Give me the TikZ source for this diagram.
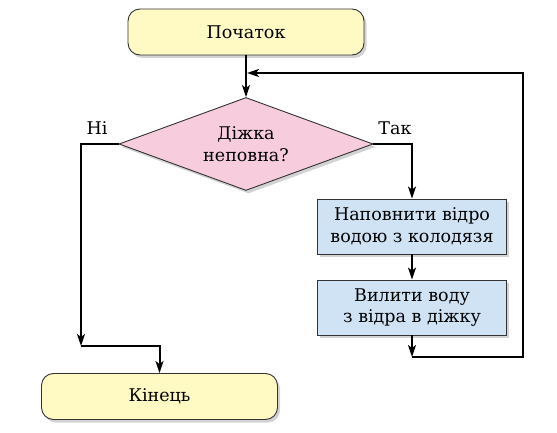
\documentclass[tikz,border=0pt]{standalone}
\usepackage{fontspec}
\setmainfont{DejaVu Serif}
\usepackage{tikz}
\usetikzlibrary{arrows.meta,shapes.geometric,shadows}
\definecolor{termfill}{HTML}{FFF9C4}
\definecolor{askfill}{HTML}{F7CCDC}
\definecolor{dofill}{HTML}{CFE3F5}
\definecolor{edge}{HTML}{333333}
\tikzset{>/.tip={Stealth[length=12pt,width=8pt,inset=3pt]},
  box/.style={draw=edge, line width=0.9pt, align=center, inner sep=0pt,
    drop shadow={opacity=0.35, shadow xshift=2.5pt, shadow yshift=-3pt}},
  term/.style={box, fill=termfill, rounded corners=12pt, minimum width=236pt, minimum height=46pt},
  ask/.style={box, fill=askfill, diamond, aspect=2.73, minimum width=254pt, minimum height=93pt},
  act/.style={box, fill=dofill, minimum width=189pt, minimum height=55pt},
  flow/.style={line width=2pt}}

\begin{document}
\begin{tikzpicture}[x=1pt, y=-1pt, font=\fontsize{17.5}{21.5}\selectfont]
\useasboundingbox (0,0) rectangle (557,433);
\node[term] (start) at (246,32)   {Початок};
\node[ask]  (full)  at (246,144)  {Діжка\\неповна?};
\node[act]  (fill)  at (412,226.5) {Наповнити відро\\водою з колодязя};
\node[act]  (pour)  at (412,307.5) {Вилити воду\\з відра в діжку};
\node[term] (end)   at (159.5,396.5) {Кінець};
\node (no)  at (97,128)  {Ні};
\node (yes) at (395,128) {Так};
\coordinate (jl) at (81,346);
\coordinate (jr) at (412,357);
\coordinate (back) at (523,73);
\coordinate (lp) at (247,73);
\draw[flow,->] (start) -- (full);
\draw[flow,->] (full.east) -| (fill.north);
\draw[flow,->] (fill) -- (pour);
\draw[flow,->] (pour) -- (jr);
\draw[flow,->] (jr) -| (back) -- (lp);
\draw[flow,->] (full.west) -| (jl);
\draw[flow,->] (jl) -| (end.north);
\end{tikzpicture}
\end{document}
